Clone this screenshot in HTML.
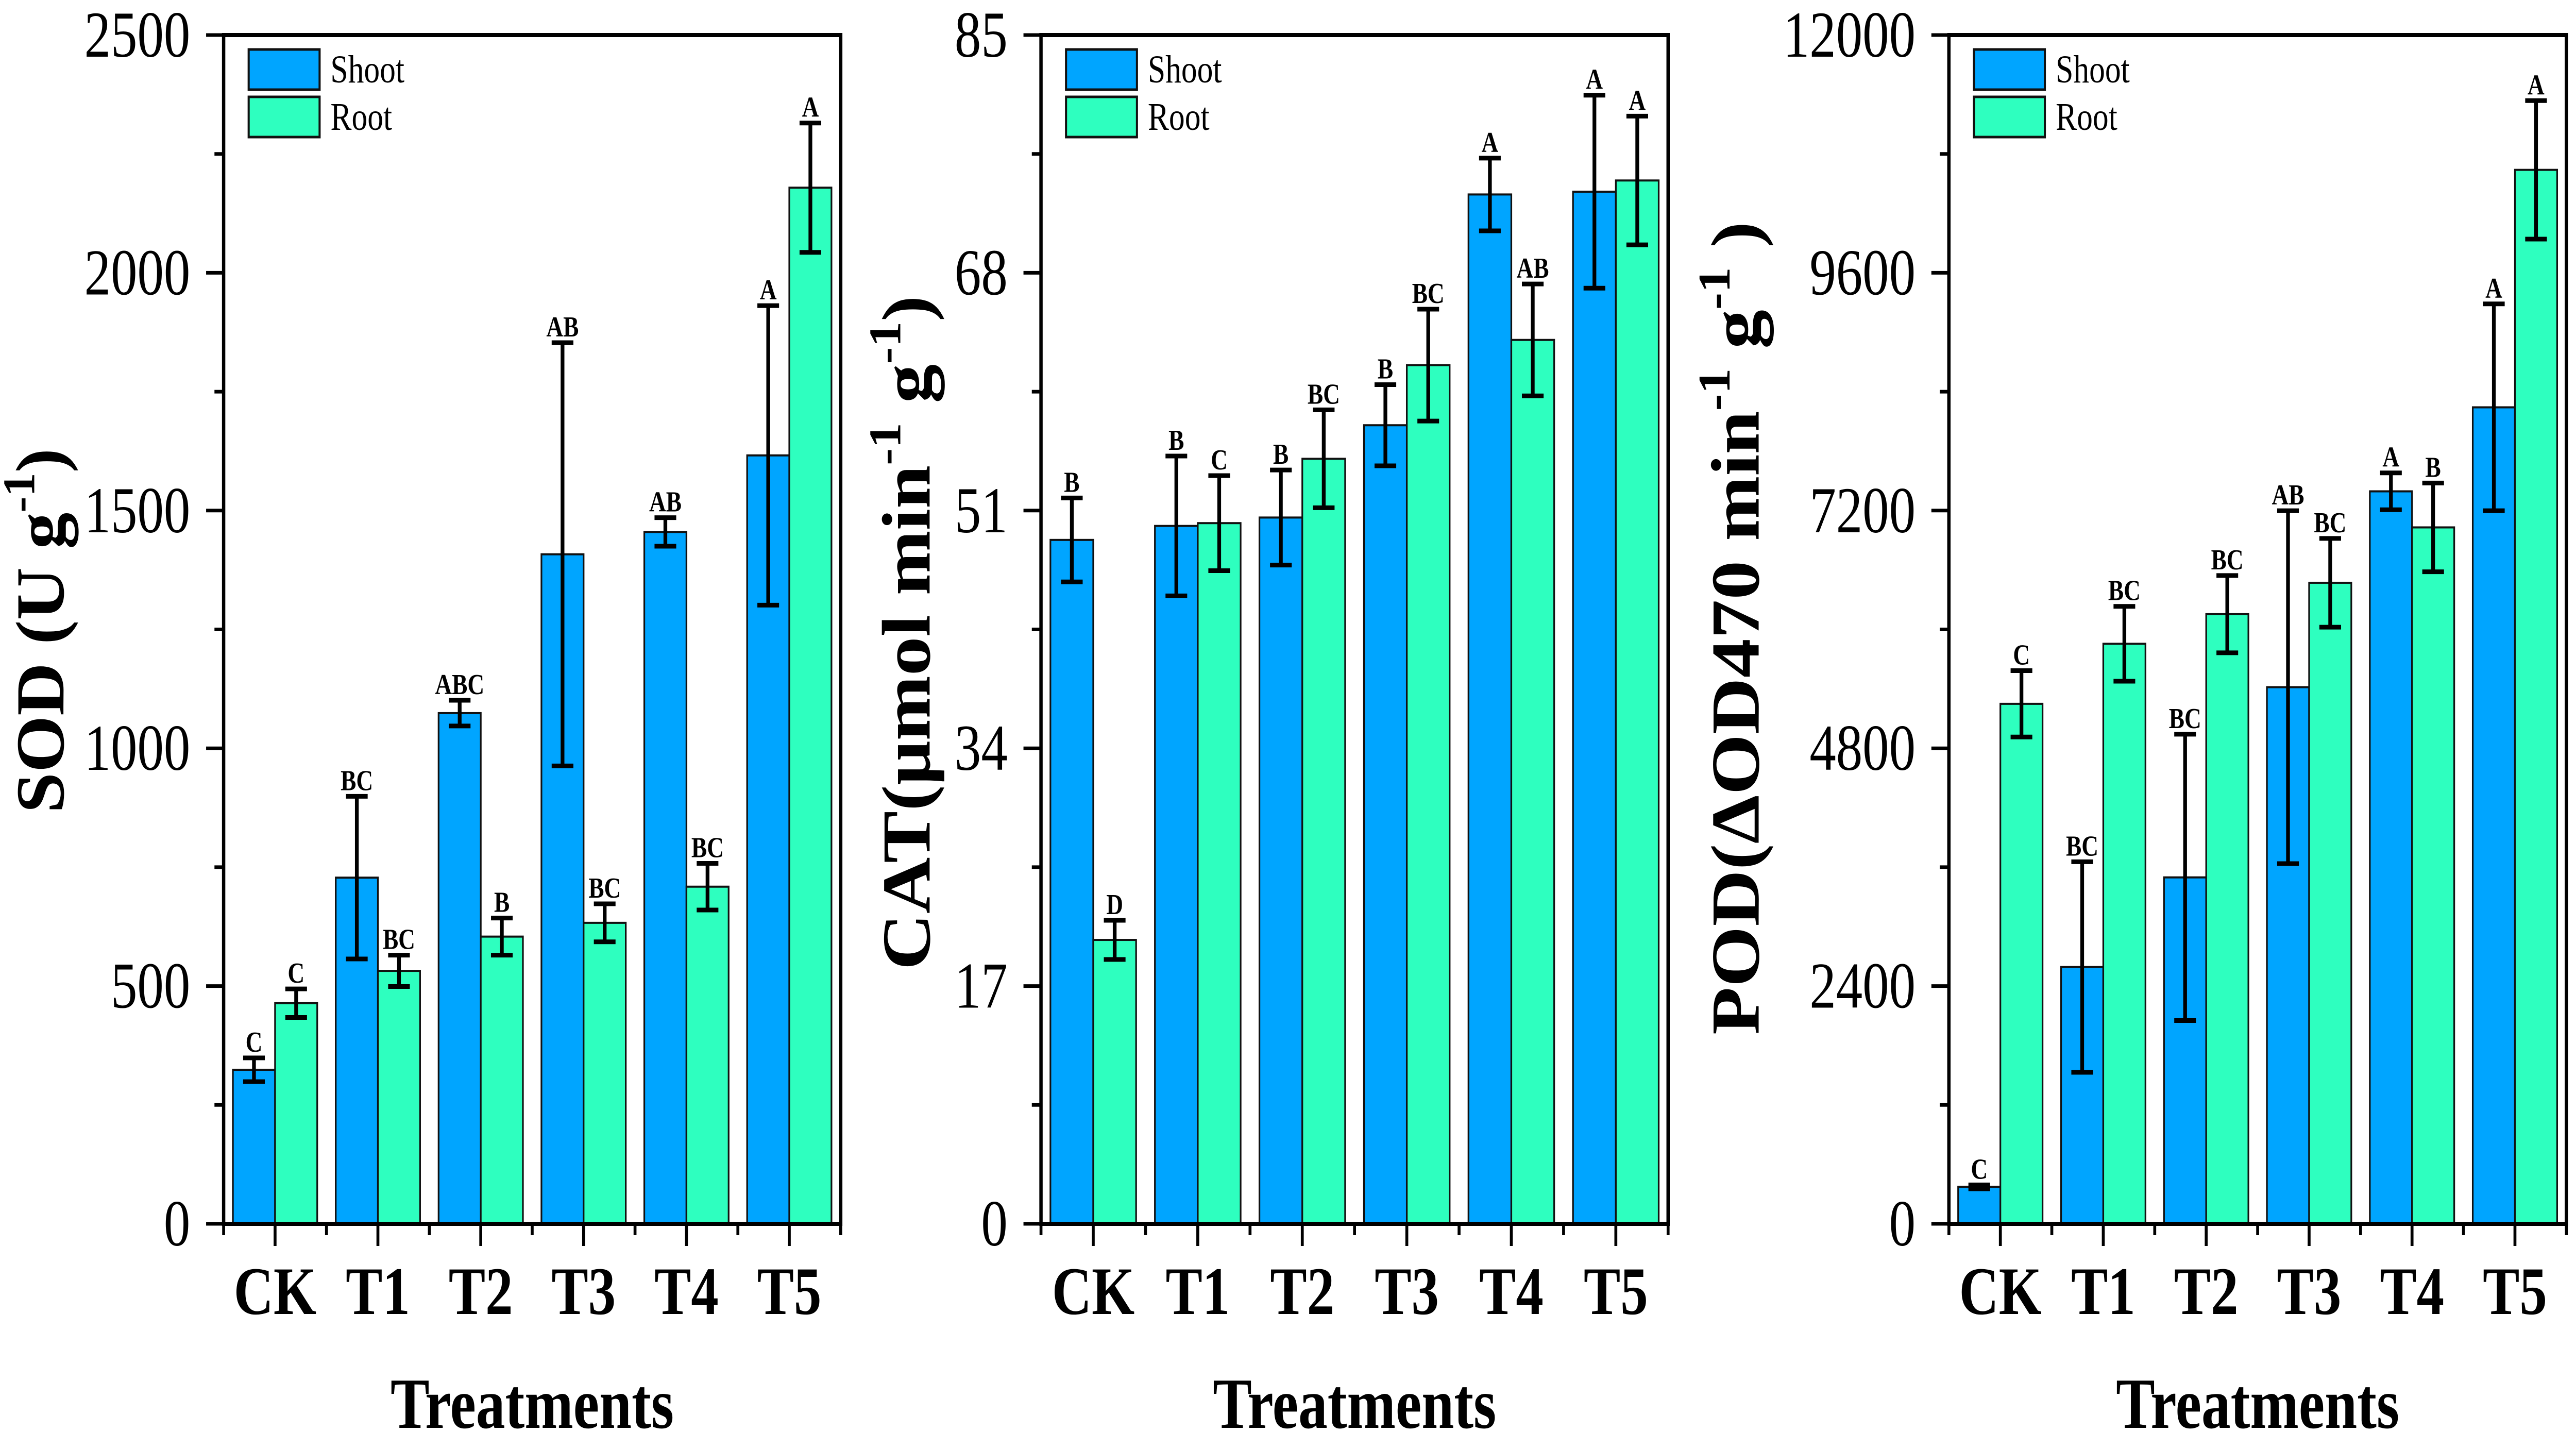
<!DOCTYPE html>
<html><head><meta charset="utf-8"><style>
html,body{margin:0;padding:0;background:#fff;width:100%;height:100%;overflow:hidden;}
svg{display:block;position:absolute;left:0;top:0;width:100vw;height:100vh;font-family:"Liberation Serif","DejaVu Serif",serif;}
</style></head><body>
<svg id="chart" xmlns="http://www.w3.org/2000/svg" viewBox="0 0 6174 2812" preserveAspectRatio="none"></svg>
<script>
const categories = ["CK","T1","T2","T3","T4","T5"];
const sodShoot = [324,728,1074,1408,1455,1616];
const sodShootErr = [25,171,27,445,30,315];
const sodRoot = [464,532,604,633,709,2179];
const sodRootErr = [30,33,39,40,49,136];
const sodShootLetters = ["C","BC","ABC","AB","AB","A"];
const sodRootLetters = ["C","BC","B","BC","BC","A"];
const sodTicks = [0,500,1000,1500,2000,2500];

const catShoot = [48.9,49.9,50.5,57.1,73.6,73.8];
const catShootErr = [3.0,5.0,3.4,2.9,2.6,6.9];
const catRoot = [20.3,50.1,54.7,61.4,63.2,74.6];
const catRootErr = [1.4,3.4,3.5,4.0,4.0,4.6];
const catShootLetters = ["B","B","B","B","A","A"];
const catRootLetters = ["D","C","BC","BC","AB","A"];
const catTicks = [0,17,34,51,68,85];

const podShoot = [373,2592,3497,5417,7394,8242];
const podShootErr = [20,1063,1445,1781,186,1044];
const podRoot = [5249,5855,6154,6471,7030,10639];
const podRootErr = [335,378,390,448,448,699];
const podShootLetters = ["C","BC","BC","AB","A","A"];
const podRootLetters = ["C","BC","BC","BC","B","A"];
const podTicks = [0,2400,4800,7200,9600,12000];

const NS = "http://www.w3.org/2000/svg";
const svg = document.getElementById("chart");
function mk(tag, attrs, parent){
  const e = document.createElementNS(NS, tag);
  for (const k in attrs) e.setAttribute(k, attrs[k]);
  (parent||svg).appendChild(e);
  return e;
}
const TOP = 68, BASE = 2375;

function panel(cfg){
  const g = mk("g", {});
  
  
  const L = cfg.left, R = cfg.right;
  const ymax = cfg.ticks[cfg.ticks.length-1];
  const y = v => BASE - (v / ymax) * (BASE - TOP);
  const band = (R - L) / categories.length;
  const cx = i => L + band * (i + 0.5);
  const bw = band * 0.41;

  for (let i = 0; i < cfg.ticks.length; i++) {
    const t = cfg.ticks[i];
    const tk = mk("line", {x1:L-42, x2:L, y1:y(t), y2:y(t), stroke:"#000","stroke-width":7}, g);
    
    
    const lb = mk("text", {x:L-80, y:y(t)+42, "text-anchor":"end", "font-size":127, fill:"#000"}, g);
    
    
    lb.textContent = t;
    if (i < cfg.ticks.length-1) {
      const mid = (t + cfg.ticks[i+1]) / 2;
      const mt = mk("line", {x1:L-22, x2:L, y1:y(mid), y2:y(mid), stroke:"#000","stroke-width":7}, g);
      
      
    }
  }
  for (let i = 0; i < categories.length; i++) {
    const series = [
      {v:cfg.shoot[i], e:cfg.shootErr[i], l:cfg.shootL[i], x:cx(i)-bw, fill:"#00A5FF", n:"shoot"},
      {v:cfg.root[i], e:cfg.rootErr[i], l:cfg.rootL[i], x:cx(i), fill:"#2EFFBF", n:"root"}
    ];
    for (const s of series) {
      const b = mk("rect", {x:s.x, y:y(s.v), width:bw, height:BASE-y(s.v), fill:s.fill, stroke:"#111","stroke-width":4}, g);
      
      
      const ex = s.x + bw/2;
      const eb = mk("g", {stroke:"#000","stroke-width":9}, g);
      
      
      mk("line", {x1:ex, x2:ex, y1:y(s.v+s.e), y2:y(s.v-s.e)}, eb);
      mk("line", {x1:ex-26, x2:ex+26, y1:y(s.v+s.e), y2:y(s.v+s.e)}, eb);
      mk("line", {x1:ex-26, x2:ex+26, y1:y(s.v-s.e), y2:y(s.v-s.e)}, eb);
      const lt = mk("text", {x:ex, y:y(s.v+s.e)-12, "text-anchor":"middle", "font-size":56, "font-weight":"bold", fill:"#000"}, g);
      
      
      lt.textContent = s.l;
    }
    const mt = mk("line", {x1:cx(i), x2:cx(i), y1:BASE, y2:BASE+43, stroke:"#000","stroke-width":7}, g);
    
    
    const bt = mk("line", {x1:L+band*i, x2:L+band*i, y1:BASE, y2:BASE+22, stroke:"#000","stroke-width":7}, g);
    
    
    const cl = mk("text", {x:cx(i), y:2550, "text-anchor":"middle", "font-size":132, "font-weight":"bold", fill:"#000"}, g);
    
    
    cl.textContent = categories[i];
  }
  const et = mk("line", {x1:R, x2:R, y1:BASE, y2:BASE+22, stroke:"#000","stroke-width":7}, g);
  
  
  const fr = mk("rect", {x:L, y:TOP, width:R-L, height:BASE-TOP, fill:"none", stroke:"#000","stroke-width":8}, g);
  
  
  const lg = mk("g", {}, g);
  
  
  const ls = mk("rect", {x:L+60, y:96, width:170, height:78, fill:"#00A5FF", stroke:"#111","stroke-width":5}, lg);
  
  
  const lr = mk("rect", {x:L+60, y:188, width:170, height:78, fill:"#2EFFBF", stroke:"#111","stroke-width":5}, lg);
  
  
  const t1 = mk("text", {x:L+256, y:160, "font-size":76, fill:"#000"}, lg);
  
  
  t1.textContent = "Shoot";
  const t2 = mk("text", {x:L+256, y:252, "font-size":76, fill:"#000"}, lg);
  
  
  t2.textContent = "Root";
  const xt = mk("text", {x:(L+R)/2, y:2771, "text-anchor":"middle", "font-size":140, "font-weight":"bold", fill:"#000"}, g);
  
  
  xt.textContent = "Treatments";
  const yt = mk("text", {x:0, y:0, "text-anchor":"middle", "font-size":165, "font-weight":"bold", fill:"#000",
    transform:`translate(${cfg.titleX},${cfg.titleY}) rotate(-90)`, textLength:cfg.titleLen, lengthAdjust:"spacingAndGlyphs"}, g);
  
  
  for (const p of cfg.title) {
    const ts = mk("tspan", {}, yt);
    if (p[1]) { ts.setAttribute("font-size", 108); ts.setAttribute("dy", -70); }
    else if (p[2]) { ts.setAttribute("dy", 70); }
    ts.textContent = p[0];
  }
}

panel({name:"sod", left:536, right:2015, ticks:sodTicks, shoot:sodShoot, shootErr:sodShootErr, root:sodRoot, rootErr:sodRootErr,
  shootL:sodShootLetters, rootL:sodRootLetters, titleX:152, titleY:1224, titleLen:708,
  title:[["SOD (U g"],["-1",1],[")",0,1]]});
panel({name:"cat", left:2495, right:3998, ticks:catTicks, shoot:catShoot, shootErr:catShootErr, root:catRoot, rootErr:catRootErr,
  shootL:catShootLetters, rootL:catRootLetters, titleX:2228, titleY:1228, titleLen:1309,
  title:[["CAT(μmol min"],["-1",1],[" g",0,1],["-1",1],[")",0,1]]});
panel({name:"pod", left:4671, right:6151, ticks:podTicks, shoot:podShoot, shootErr:podShootErr, root:podRoot, rootErr:podRootErr,
  shootL:podShootLetters, rootL:podRootLetters, titleX:4215, titleY:1219, titleLen:1578,
  title:[["POD(ΔOD470 min"],["-1",1],[" g",0,1],["-1",1],[" )",0,1]]});
</script>
</body></html>
